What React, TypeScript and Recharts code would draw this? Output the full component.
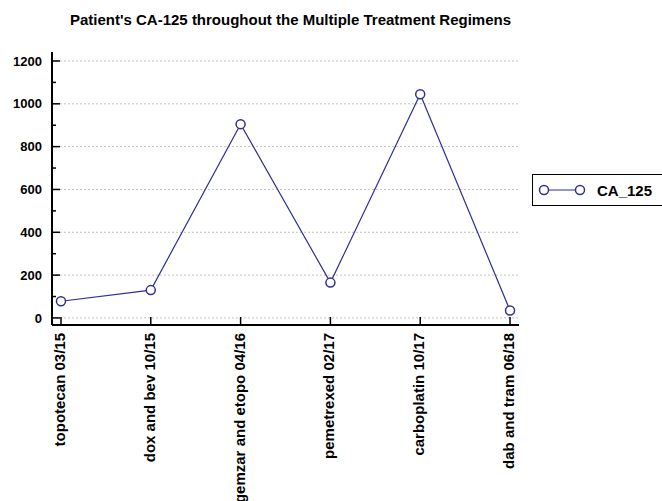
import React from 'react';
import { CartesianGrid, Line, LineChart, XAxis, YAxis } from 'recharts';

const regimens = [
  'topotecan 03/15',
  'dox and bev 10/15',
  'gemzar and etopo 04/16',
  'pemetrexed 02/17',
  'carboplatin 10/17',
  'dab and tram 06/18',
];
const ca125 = [78, 130, 905, 165, 1045, 35];
const yTicks = [0, 100, 200, 300, 400, 500, 600, 700, 800, 900, 1000, 1100, 1200];
const yMajor = [0, 200, 400, 600, 800, 1000, 1200];

const data = regimens.map((name, i) => ({ idx: i, name, CA_125: ca125[i] }));

const FONT = '"Liberation Sans", Arial, sans-serif';
const LINE = '#2f2f96';

const YTick = ({ x, y, payload }: any) => {
  const major = payload.value % 200 === 0;
  return (
    <g>
      <line x1={x} x2={x + (major ? 8 : 4)} y1={y} y2={y} stroke="#000" strokeWidth={1.5} />
      {major && (
        <text x={x - 10} y={y} dy="0.36em" textAnchor="end" fontFamily={FONT} fontWeight="bold" fontSize={13} fill="#000">
          {payload.value}
        </text>
      )}
    </g>
  );
};

const XTick = ({ x, y, payload }: any) => (
  <g>
    <line x1={x} x2={x} y1={y} y2={y - 8} stroke="#000" strokeWidth={1.5} />
    <text
      transform={`translate(${x + 4}, ${y + 8}) rotate(-90)`}
      textAnchor="end"
      fontFamily={FONT}
      fontWeight="bold"
      fontSize={15}
      fill="#000"
    >
      {regimens[payload.value]}
    </text>
  </g>
);

const LegendBox = () => (
  <div
    style={{
      position: 'absolute',
      left: 532,
      top: 174,
      border: '1px solid #000',
      width: 140,
      height: 32,
      display: 'flex',
      alignItems: 'center',
      boxSizing: 'border-box',
    }}
  >
    <svg width={62} height={30}>
      <line x1={11} x2={47} y1={15} y2={15} stroke={LINE} strokeWidth={1.2} />
      <circle cx={11} cy={15} r={4.5} fill="#fff" stroke={LINE} strokeWidth={1.5} />
      <circle cx={47} cy={15} r={4.5} fill="#fff" stroke={LINE} strokeWidth={1.5} />
    </svg>
    <span style={{ fontFamily: FONT, fontWeight: 'bold', fontSize: 15, marginLeft: 2 }}>CA_125</span>
  </div>
);

export default function App() {
  return (
    <div style={{ position: 'absolute', left: 0, top: 0, width: 662, height: 501, background: '#fff', overflow: 'hidden' }}>
      <div
        style={{
          position: 'absolute',
          left: 0,
          top: 11,
          width: 581,
          textAlign: 'center',
          fontFamily: FONT,
          fontWeight: 'bold',
          fontSize: 15,
        }}
      >
        Patient's CA-125 throughout the Multiple Treatment Regimens
      </div>
      <LineChart width={662} height={501} data={data} margin={{ top: 52, right: 143, bottom: 0, left: 0 }}>
        <CartesianGrid horizontal vertical={false} horizontalValues={yMajor} stroke="#c4c4c4" strokeDasharray="2 2" />
        <XAxis
          dataKey="idx"
          type="number"
          domain={[-0.1, 5.1]}
          ticks={[0, 1, 2, 3, 4, 5]}
          axisLine={{ stroke: '#000', strokeWidth: 2 }}
          tickLine={false}
          tickSize={0}
          tickMargin={0}
          tick={<XTick />}
          height={176}
          interval={0}
        />
        <YAxis
          type="number"
          domain={[-33, 1242]}
          ticks={yTicks}
          width={52}
          axisLine={{ stroke: '#000', strokeWidth: 2 }}
          tickLine={false}
          tickSize={0}
          tickMargin={0}
          tick={<YTick />}
          interval={0}
        />
        <Line
          dataKey="CA_125"
          stroke={LINE}
          strokeWidth={1.2}
          dot={{ r: 4.5, fill: '#fff', stroke: LINE, strokeWidth: 1.5 }}
          isAnimationActive={false}
        />
      </LineChart>
      <LegendBox />
    </div>
  );
}
